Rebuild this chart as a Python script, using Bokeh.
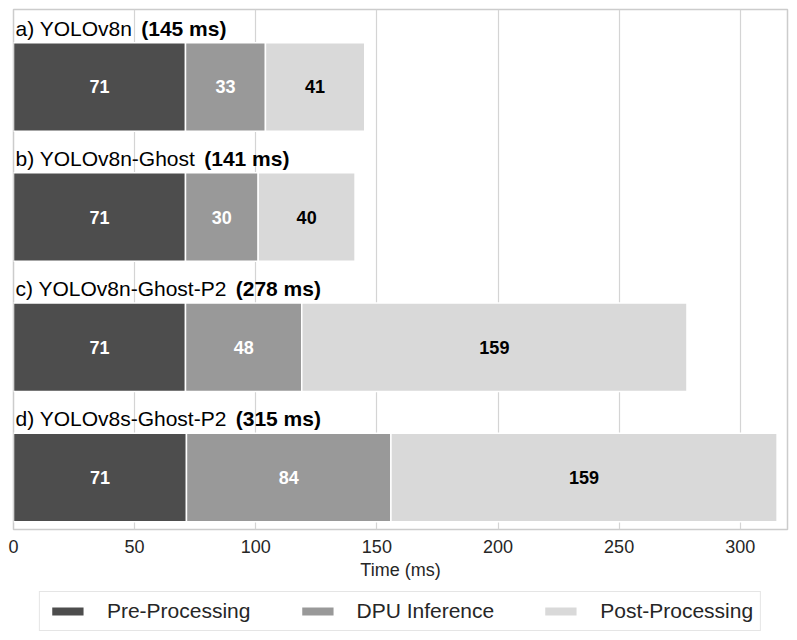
import numpy as np
from bokeh.plotting import figure
from bokeh.layouts import column
from bokeh.models import ColumnDataSource, Range1d, Legend, LegendItem, FixedTicker
from bokeh.core.properties import value
from bokeh.embed import file_html
from bokeh.resources import INLINE

# ---------------- data ----------------
models = ["a) YOLOv8n", "b) YOLOv8n-Ghost", "c) YOLOv8n-Ghost-P2", "d) YOLOv8s-Ghost-P2"]
totals = [145, 141, 278, 315]
pre = [71, 71, 71, 71.4]
dpu = [33, 30, 48, 84.4]
post = [41, 40, 159, 159.4]
stages = ["Pre-Processing", "DPU Inference", "Post-Processing"]
x_ticks = [0, 50, 100, 150, 200, 250, 300]

# ---------------- style ----------------
FONT = "Liberation Sans"
colors = ["#4d4d4d", "#999999", "#d9d9d9"]
label_colors = ["white", "white", "black"]
TITLE_SIZE = 21
BAR_H = 0.68
TITLE_RAISE = 0.45

# Arial / Liberation Sans advance widths (per 1000 em)
CW = {'a': 556, ')': 333, ' ': 278, 'Y': 667, 'O': 778, 'L': 556, 'v': 500, '8': 556,
      'n': 556, '-': 333, 'G': 778, 'h': 556, 'o': 556, 's': 500, 't': 278, 'P': 667,
      '2': 556, 'b': 556, 'c': 500, 'd': 556}


def text_w(s, size):
    return sum(CW.get(c, 556) for c in s) * size / 1000.0


y = np.arange(len(models))
series = [np.array(pre, float), np.array(dpu, float), np.array(post, float)]

p = figure(frame_width=774, frame_height=520, output_backend="svg", toolbar_location=None,
           x_range=Range1d(0, 319.5), y_range=Range1d(3.40, -0.595),
           min_border_left=13, min_border_right=5, min_border_top=9, min_border_bottom=0)

p.background_fill_color = "white"
p.border_fill_color = "white"
p.outline_line_color = "#cccccc"
p.outline_line_width = 1.5

p.ygrid.visible = False
p.yaxis.visible = False
p.xgrid.grid_line_color = "#d4d4d4"
p.xgrid.grid_line_width = 1.2
p.xgrid.ticker = FixedTicker(ticks=x_ticks)

ax = p.xaxis[0]
ax.ticker = FixedTicker(ticks=x_ticks)
ax.axis_line_color = None
ax.major_tick_line_color = None
ax.minor_tick_line_color = None
ax.major_tick_out = 0
ax.major_tick_in = 0
ax.major_label_standoff = 10
ax.major_label_text_font = FONT
ax.major_label_text_font_size = "18px"
ax.major_label_text_color = "#262626"
ax.axis_label = "Time (ms)"
ax.axis_label_text_font = FONT
ax.axis_label_text_font_size = "18px"
ax.axis_label_text_font_style = "normal"
ax.axis_label_text_color = "#262626"
ax.axis_label_standoff = 4

left = np.zeros(len(models))
for k, vals in enumerate(series):
    right = left + vals
    src = ColumnDataSource(dict(y=y, left=left, right=right,
                                xc=(left + right) / 2,
                                lab=[f"{v:.0f}" for v in vals]))
    p.hbar(y="y", left="left", right="right", height=BAR_H, source=src,
           fill_color=colors[k], line_color="white", line_width=1.5)
    p.text(x="xc", y="y", text="lab", source=src, text_align="center",
           text_baseline="middle", text_font=value(FONT), text_font_size="18px",
           text_font_style="bold", text_color=label_colors[k])
    left = right

# titles above each bar
title_src = ColumnDataSource(dict(
    x=np.zeros(len(models)), y=y - TITLE_RAISE, name=models,
    bold=[f"({t} ms)" for t in totals],
    off=[2 + text_w(m, TITLE_SIZE) + 9 for m in models]))
p.text(x="x", y="y", text="name", source=title_src, x_offset=2,
       text_align="left", text_baseline="alphabetic", text_font=value(FONT),
       text_font_size=f"{TITLE_SIZE}px", text_color="black")
p.text(x="x", y="y", text="bold", source=title_src, x_offset="off",
       text_align="left", text_baseline="alphabetic", text_font=value(FONT),
       text_font_size=f"{TITLE_SIZE}px", text_font_style="bold", text_color="black")

# ---------------- legend strip ----------------
lg = figure(frame_width=774, frame_height=50, output_backend="svg", toolbar_location=None,
            x_range=Range1d(0, 1), y_range=Range1d(0, 1),
            min_border_left=13, min_border_right=5, min_border_top=0, min_border_bottom=0)
lg.axis.visible = False
lg.grid.visible = False
lg.outline_line_color = None
lg.background_fill_color = "white"
lg.border_fill_color = "white"
# off-screen proxy bars (one per stage) that only feed the legend swatches
proxy = ColumnDataSource(dict(y=[-10], left=[0], right=[0]))
items = []
for k, s in enumerate(stages):
    r = lg.hbar(y="y", left="left", right="right", height=0.1, source=proxy,
                fill_color=colors[k], line_color="white", line_width=1.5)
    items.append(LegendItem(label=s, renderers=[r], index=0))

legend = Legend(items=items, orientation="horizontal", location="top_center",
                border_line_color="#cccccc", border_line_width=1.2,
                label_text_font=FONT, label_text_font_size="21px", label_text_color="#262626",
                glyph_width=41, glyph_height=12, label_standoff=19, spacing=46,
                padding=7, margin=9)
lg.add_layout(legend)

layout = column(p, lg, spacing=0)
open("out.html", "w").write(file_html(layout, INLINE))
